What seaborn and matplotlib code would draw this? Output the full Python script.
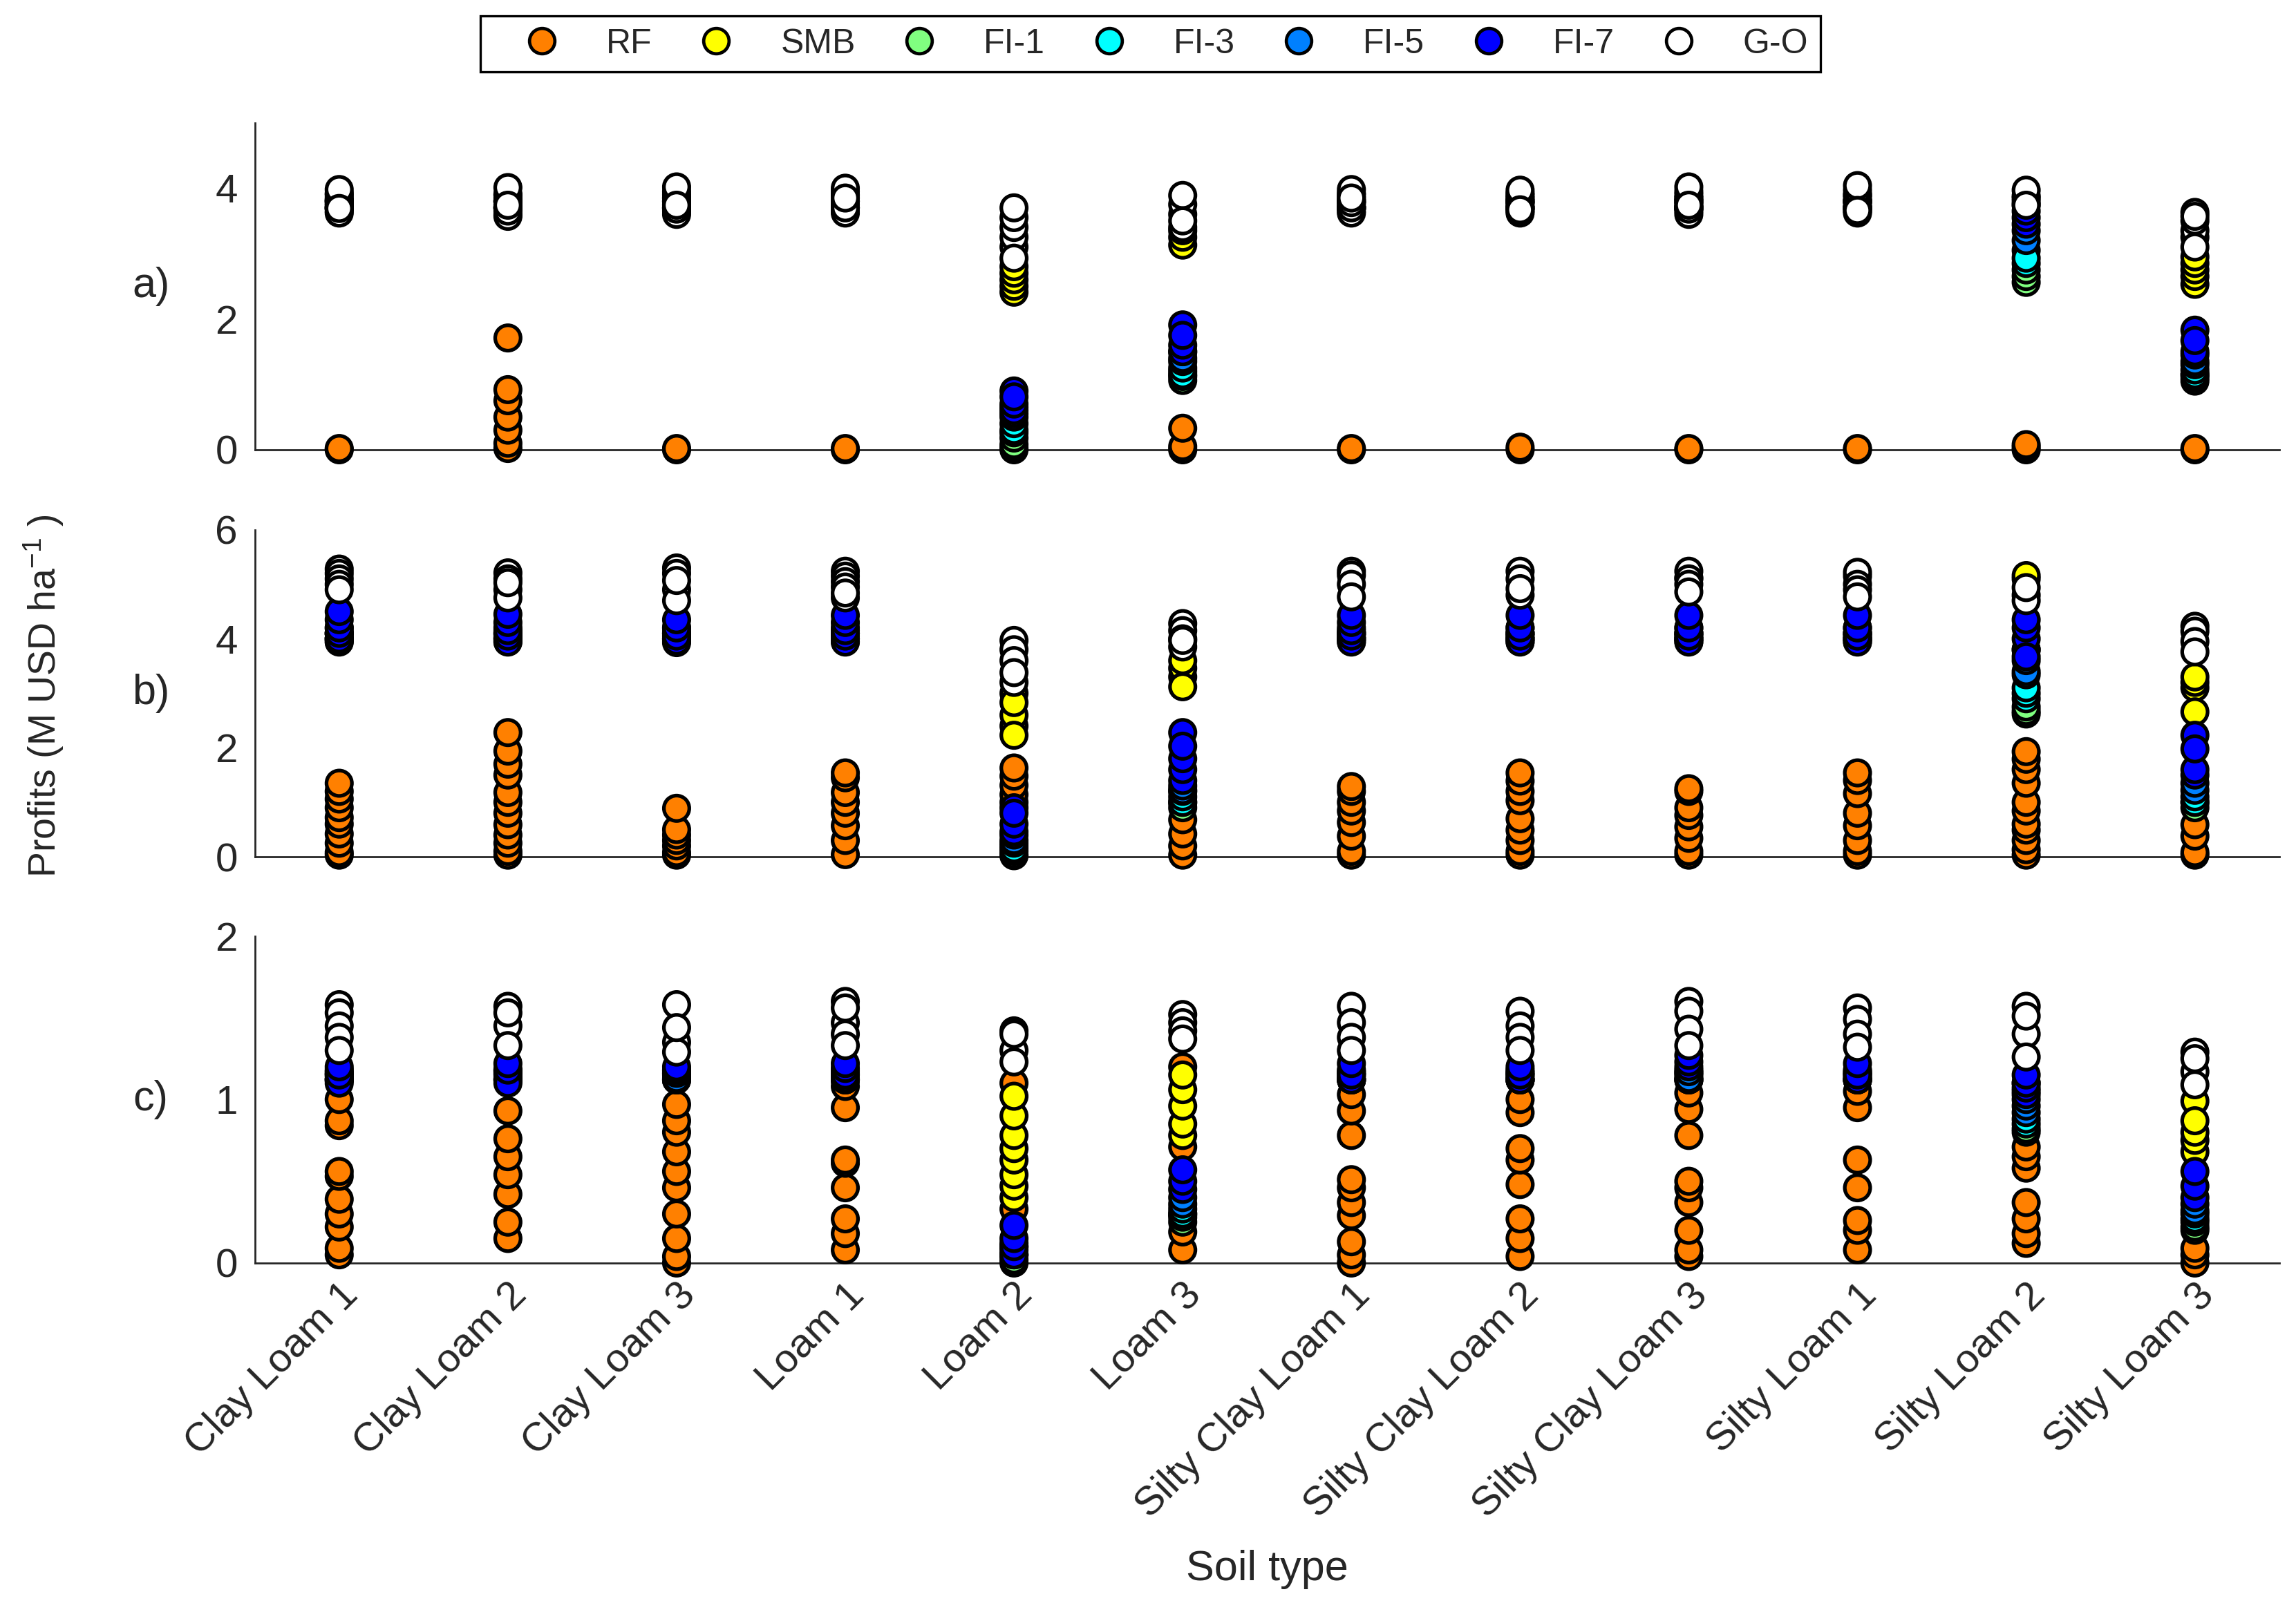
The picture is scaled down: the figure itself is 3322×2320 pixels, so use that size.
import numpy as np
import pandas as pd
import matplotlib
matplotlib.use("Agg")
import matplotlib.pyplot as plt
from matplotlib.lines import Line2D
import seaborn as sns

# soil types on the x axis
soils = ["Clay Loam 1", "Clay Loam 2", "Clay Loam 3", "Loam 1", "Loam 2", "Loam 3",
         "Silty Clay Loam 1", "Silty Clay Loam 2", "Silty Clay Loam 3",
         "Silty Loam 1", "Silty Loam 2", "Silty Loam 3"]
strategies = ["RF", "SMB", "FI-1", "FI-3", "FI-5", "FI-7", "G-O"]
colors = ["#FF8000", "#FFFF00", "#80FF80", "#00FFFF", "#0080FF", "#0000FF", "#FFFFFF"]

# profits (M USD/ha), one list per soil, panel a)
rf_a = [[0.0, 0.02], [0.02, 0.1, 0.3, 0.5, 0.75, 0.92, 1.71], [0.0, 0.02], [0.0, 0.02],
        [0.0, 0.03], [0.0, 0.05, 0.33], [0.0, 0.02], [0.0, 0.04], [0.0, 0.02], [0.0, 0.02],
        [0.0, 0.04, 0.08], [0.0, 0.02]]
smb_a = [[3.65, 3.75], [3.6, 3.7], [3.65, 3.75], [3.65, 3.75], [2.41, 2.5, 2.6, 2.7, 2.8],
         [3.13, 3.25, 3.35], [3.65, 3.75], [3.65, 3.75], [3.65, 3.75], [3.65, 3.75],
         [3.75, 3.85], [2.53, 2.65, 2.75, 2.85, 2.95]]
fi1_a = [[3.7, 3.8], [3.7, 3.8], [3.7, 3.8], [3.7, 3.8], [0.08, 0.18, 0.26], [1.06, 1.12, 1.2],
         [3.7, 3.8], [3.7, 3.8], [3.7, 3.8], [3.7, 3.8], [2.56, 2.65, 2.75], [1.05, 1.1, 1.15]]
fi3_a = [[3.7, 3.8], [3.7, 3.8], [3.7, 3.8], [3.7, 3.8], [0.3, 0.4, 0.5], [1.15, 1.25, 1.35],
         [3.7, 3.8], [3.7, 3.8], [3.7, 3.8], [3.7, 3.8], [2.85, 3.05, 2.93], [1.15, 1.22, 1.3]]
fi5_a = [[3.7, 3.85], [3.7, 3.85], [3.7, 3.85], [3.7, 3.85], [0.55, 0.65], [1.4, 1.5],
         [3.7, 3.85], [3.7, 3.85], [3.7, 3.85], [3.7, 3.85], [3.2, 3.35], [1.35, 1.45]]
fi7_a = [[3.7, 3.8, 3.92], [3.7, 3.8, 3.9], [3.7, 3.8, 3.9], [3.7, 3.8, 3.9],
         [0.6, 0.7, 0.9, 0.81], [1.5, 1.6, 1.91, 1.75], [3.7, 3.8, 3.9], [3.7, 3.8, 3.9],
         [3.7, 3.8, 3.9], [3.7, 3.8, 3.9], [3.45, 3.55, 3.65], [1.5, 1.83, 1.67]]
go_a = [[3.62, 3.75, 3.82, 3.9, 3.98, 3.69], [3.57, 3.65, 3.8, 3.9, 4.01, 3.74],
        [3.6, 3.68, 3.85, 3.95, 4.02, 3.74], [3.62, 3.7, 3.88, 3.95, 4.0, 3.85],
        [3.1, 3.25, 3.4, 3.55, 3.7, 2.93], [3.4, 3.6, 3.75, 3.89, 3.5],
        [3.62, 3.7, 3.78, 3.92, 3.98, 3.85], [3.62, 3.78, 3.85, 3.92, 3.97, 3.67],
        [3.6, 3.68, 3.85, 3.95, 4.02, 3.74], [3.62, 3.8, 3.9, 3.97, 4.04, 3.66],
        [3.8, 3.88, 3.97, 3.74], [3.25, 3.35, 3.5, 3.63, 3.57, 3.1]]

# panel b)
rf_b = [[0.03, 0.08, 0.25, 0.42, 0.6, 0.72, 0.9, 1.06, 1.2, 1.35],
        [0.03, 0.1, 0.25, 0.4, 0.59, 0.8, 1.0, 1.18, 1.5, 1.7, 1.94, 2.28],
        [0.03, 0.08, 0.2, 0.3, 0.4, 0.5, 0.89], [0.04, 0.3, 0.57, 0.8, 1.0, 1.18, 1.45, 1.54],
        [0.02, 1.0, 1.14, 1.31, 1.48, 1.63], [0.03, 0.2, 0.42, 0.68],
        [0.03, 0.1, 0.38, 0.63, 0.84, 1.0, 1.2, 1.29],
        [0.03, 0.1, 0.3, 0.49, 0.7, 1.03, 1.2, 1.39, 1.54],
        [0.03, 0.1, 0.34, 0.55, 0.76, 0.9, 1.2, 1.25],
        [0.03, 0.1, 0.3, 0.57, 0.8, 1.16, 1.4, 1.54],
        [0.03, 0.13, 0.3, 0.49, 0.6, 0.84, 1.0, 1.35, 1.6, 1.79, 1.93],
        [0.03, 0.08, 0.38, 0.59]]
smb_b = [[4.0, 4.2], [4.0, 4.2], [4.0, 4.2], [4.0, 4.2], [2.4, 2.6, 3.0, 2.83, 2.23],
         [3.3, 3.46, 3.6, 3.12], [4.0, 4.2], [4.0, 4.2], [4.0, 4.2], [4.0, 4.2],
         [5.1, 5.16], [3.1, 3.2, 3.3, 2.66]]
fi1_b = [[4.0, 4.1], [4.0, 4.1], [4.0, 4.1], [4.0, 4.1], [0.04, 0.1, 0.2], [0.9, 1.0],
         [4.0, 4.1], [4.0, 4.1], [4.0, 4.1], [4.0, 4.1], [2.62, 2.67, 2.75], [0.9, 1.0]]
fi3_b = [[4.0, 4.1], [4.0, 4.1], [4.0, 4.1], [4.0, 4.1], [0.15, 0.25], [1.0, 1.1, 1.2],
         [4.0, 4.1], [4.0, 4.1], [4.0, 4.1], [4.0, 4.1], [2.9, 3.0, 3.1, 3.34], [1.0, 1.1]]
fi5_b = [[3.95, 4.1], [3.95, 4.1], [3.93, 4.1], [3.95, 4.1], [0.3, 0.4], [1.22, 1.3],
         [3.95, 4.1], [3.95, 4.1], [3.95, 4.1], [3.95, 4.1], [3.4, 3.6, 3.8], [1.22, 1.35]]
fi7_b = [[3.94, 4.0, 4.1, 4.2, 4.35, 4.5], [3.94, 4.05, 4.15, 4.3, 4.45],
         [3.96, 4.05, 4.2, 4.35], [3.94, 4.05, 4.15, 4.3, 4.43], [0.46, 0.6, 0.9, 0.8],
         [1.4, 1.6, 1.8, 2.28, 2.03], [3.94, 4.05, 4.15, 4.3, 4.43], [3.94, 4.05, 4.2, 4.43],
         [5.12, 3.94, 4.05, 4.2, 4.43], [5.15, 3.94, 4.05, 4.2, 4.43],
         [3.8, 4.0, 4.2, 4.35, 3.67], [1.5, 1.6, 2.23, 1.98]]
go_b = [[5.28, 5.2, 5.1, 5.0, 4.9], [5.21, 5.1, 4.9, 4.75, 5.03], [5.3, 5.2, 4.9, 4.7, 5.07],
        [5.24, 5.15, 5.05, 4.95, 4.75, 4.84], [3.97, 3.8, 3.6, 3.2, 3.38],
        [4.28, 4.15, 4.0, 3.85, 3.97], [5.24, 5.17, 5.0, 4.77], [5.24, 5.1, 4.8, 4.92],
        [5.24, 5.1, 5.0, 4.86], [5.22, 5.0, 4.9, 4.77], [4.8, 4.7, 4.94],
        [4.23, 4.14, 3.95, 3.76]]

# panel c)
rf_c = [[0.05, 0.09, 0.22, 0.3, 0.39, 0.53, 0.56, 0.84, 0.87, 1.0],
        [0.15, 0.25, 0.42, 0.54, 0.65, 0.76, 0.93],
        [0.0, 0.04, 0.15, 0.3, 0.46, 0.56, 0.68, 0.8, 0.87, 0.97],
        [0.08, 0.18, 0.27, 0.46, 0.61, 0.63, 0.95, 1.08], [0.0, 0.05, 0.33, 1.1],
        [0.08, 0.19, 0.3, 0.71, 1.2], [0.0, 0.05, 0.13, 0.29, 0.37, 0.46, 0.51, 0.78, 0.93, 1.03],
        [0.04, 0.15, 0.27, 0.48, 0.63, 0.7, 0.92, 1.0],
        [0.04, 0.08, 0.2, 0.37, 0.46, 0.5, 0.78, 0.94, 1.04],
        [0.08, 0.2, 0.26, 0.46, 0.63, 0.95, 1.05],
        [0.12, 0.18, 0.27, 0.37, 0.58, 0.65, 0.71], [0.0, 0.05, 0.09, 0.2]]
smb_c = [[1.12, 1.18], [1.12, 1.18], [1.12, 1.18], [1.12, 1.18],
         [0.4, 0.47, 0.54, 0.63, 0.7, 0.78, 0.9, 1.02], [0.78, 0.85, 0.96, 1.06, 1.15],
         [1.12, 1.18], [1.12, 1.18], [1.12, 1.18], [1.12, 1.18], [1.05, 1.1],
         [0.68, 0.75, 0.8, 0.99, 0.87]]
fi1_c = [[1.12, 1.15], [1.12, 1.15], [1.12, 1.15], [1.12, 1.15], [0.02, 0.05, 0.1], [0.25, 0.28],
         [1.12, 1.15], [1.12, 1.15], [1.12, 1.15], [1.12, 1.15], [0.8, 0.82], [0.22, 0.25]]
fi3_c = [[1.12, 1.16], [1.12, 1.16], [1.12, 1.16], [1.12, 1.16], [0.05, 0.1], [0.3, 0.33],
         [1.12, 1.16], [1.12, 1.16], [1.12, 1.16], [1.12, 1.16], [0.85, 0.88], [0.27, 0.3]]
fi5_c = [[1.13, 1.17], [1.13, 1.17], [1.13, 1.17], [1.13, 1.17], [0.08, 0.12], [0.36, 0.4],
         [1.13, 1.17], [1.13, 1.17], [1.13, 1.17], [1.13, 1.17], [0.92, 0.96, 1.0],
         [0.32, 0.36]]
fi7_c = [[1.1, 1.15, 1.2], [1.1, 1.18, 1.22], [1.16, 1.18, 1.2], [1.15, 1.19, 1.22],
         [0.05, 0.1, 0.15, 0.23], [0.45, 0.5, 0.57], [1.12, 1.15, 1.22], [1.12, 1.15, 1.2],
         [1.2, 1.23, 1.27], [1.12, 1.15, 1.22], [1.03, 1.07, 1.1, 1.15], [0.4, 0.47, 0.56]]
go_c = [[1.58, 1.53, 1.45, 1.38, 1.30], [1.57, 1.45, 1.33, 1.53], [1.58, 1.35, 1.29, 1.44],
        [1.6, 1.47, 1.4, 1.33, 1.56], [1.42, 1.3, 1.23, 1.4], [1.52, 1.47, 1.42, 1.37],
        [1.57, 1.47, 1.38, 1.3], [1.54, 1.45, 1.38, 1.3], [1.6, 1.54, 1.43, 1.33],
        [1.56, 1.49, 1.4, 1.32], [1.57, 1.4, 1.26, 1.51], [1.29, 1.17, 1.09, 1.25]]

panels = {
    "a)": [rf_a, smb_a, fi1_a, fi3_a, fi5_a, fi7_a, go_a],
    "b)": [rf_b, smb_b, fi1_b, fi3_b, fi5_b, fi7_b, go_b],
    "c)": [rf_c, smb_c, fi1_c, fi3_c, fi5_c, fi7_c, go_c],
}
ylims = {"a)": (0, 5), "b)": (0, 6), "c)": (0, 2)}
yticks = {"a)": [0, 2, 4], "b)": [0, 2, 4, 6], "c)": [0, 1, 2]}

# long form table, rows ordered by strategy so G-O ends up on top
rows = []
for panel, groups in panels.items():
    for strat, per_soil in zip(strategies, groups):
        for i, vals in enumerate(per_soil):
            for v in vals:
                rows.append((panel, strat, i + 1, v))
df = pd.DataFrame(rows, columns=["panel", "strategy", "soil", "profit"])

sns.set_theme(style="white")
plt.rcParams["font.family"] = ["Liberation Sans", "DejaVu Sans"]
plt.rcParams["mathtext.default"] = "regular"
dark = "#262626"
plt.rcParams["text.color"] = dark
plt.rcParams["axes.labelcolor"] = dark

fig = plt.figure(figsize=(16.61, 11.6), dpi=200)
bottoms = {"a)": 0.7194, "b)": 0.4655, "c)": 0.2121}
palette = dict(zip(strategies, colors))

for panel in panels:
    ax = fig.add_axes([0.111, bottoms[panel], 0.8817, 0.204])
    sub = df[df["panel"] == panel]
    sns.scatterplot(data=sub, x="soil", y="profit", hue="strategy", hue_order=strategies,
                    palette=palette, s=175, edgecolor="black", linewidth=1.9,
                    legend=False, ax=ax, clip_on=False, zorder=3)
    ax.set_xlim(0.5, 12.5)
    ax.set_ylim(*ylims[panel])
    ax.set_yticks(yticks[panel])
    ax.set_xticks(range(1, 13))
    sns.despine(ax=ax)
    for sp in ["left", "bottom"]:
        ax.spines[sp].set_linewidth(1.0)
        ax.spines[sp].set_color(dark)
    ax.tick_params(direction="in", length=10.5, width=1.0, color=dark,
                   labelsize=21, labelcolor=dark, pad=9)
    ax.set_ylabel(panel, rotation=0, fontsize=22, va="center", ha="center")
    ax.yaxis.set_label_coords(-0.0514, 0.5)
    if panel == "c)":
        ax.set_xticklabels(soils, rotation=45, ha="right", va="top",
                           rotation_mode="anchor")
        ax.tick_params(axis="x", pad=7)
        ax.set_xlabel("Soil type", fontsize=22, va="center")
        ax.xaxis.set_label_coords(0.5, -0.937)
    else:
        ax.set_xticklabels([])
        ax.set_xlabel("")

fig.text(0.019, 0.566, "Profits (M USD ha$^{-1}$ )", rotation=90, ha="center",
         va="center", fontsize=20)

handles = [Line2D([], [], linestyle="none", marker="o", markersize=13.2,
                  markerfacecolor=c, markeredgecolor="black", markeredgewidth=1.7, label=s)
           for s, c in zip(strategies, colors)]
leg = fig.legend(handles=handles, loc="center", bbox_to_anchor=(0.501, 0.9726), ncol=7,
                 fontsize=18, frameon=True, fancybox=False, framealpha=1,
                 handlelength=2.86, handletextpad=0.43, columnspacing=0.42,
                 borderpad=0.35)
leg.get_frame().set_edgecolor("black")
leg.get_frame().set_linewidth(1.2)

fig.savefig("out.png", dpi=200)
